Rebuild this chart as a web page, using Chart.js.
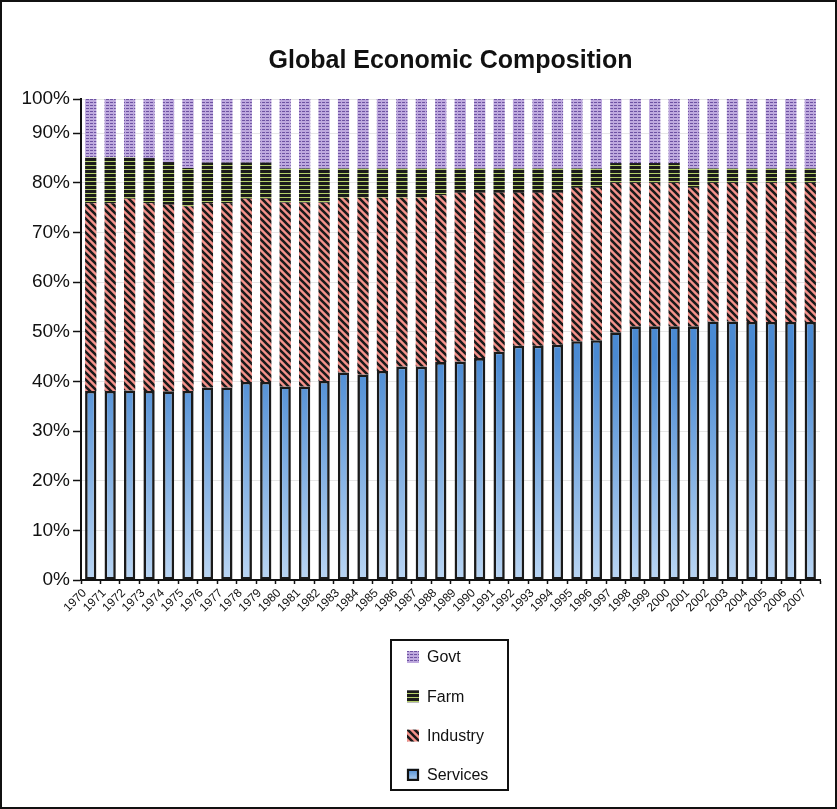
<!DOCTYPE html>
<html lang="en">
<head>
<meta charset="UTF-8">
<title>Global Economic Composition</title>
<style>
  body { margin: 0; background: #fff; }
  .frame { width: 837px; height: 809px; box-sizing: border-box; border: 2px solid #111; background: #fff; }
  .frame canvas { display: block; }
</style>
<script src="https://cdn.jsdelivr.net/npm/chart.js"></script>
</head>
<body>
<div class="frame"><canvas id="econChart" width="833" height="805"></canvas></div>
<script>
// shares of world output, percent
const years = [1970, 1971, 1972, 1973, 1974, 1975, 1976, 1977, 1978, 1979,
               1980, 1981, 1982, 1983, 1984, 1985, 1986, 1987, 1988, 1989,
               1990, 1991, 1992, 1993, 1994, 1995, 1996, 1997, 1998, 1999,
               2000, 2001, 2002, 2003, 2004, 2005, 2006, 2007];
const services = [38.1, 38.1, 38.2, 38.1, 38.0, 38.1, 38.8, 38.8, 39.9, 39.9,
                  39.0, 39.0, 40.1, 41.8, 41.4, 42.1, 43.0, 43.0, 43.9, 44.0,
                  44.7, 46.0, 47.2, 47.2, 47.4, 48.1, 48.3, 49.9, 51.1, 51.1,
                  51.1, 51.1, 52.1, 52.1, 52.0, 52.0, 52.0, 52.0];
const industry = [37.8, 37.8, 38.6, 37.8, 37.6, 37.2, 37.1, 37.1, 36.9, 36.9,
                  37.0, 37.0, 35.9, 35.2, 35.6, 34.9, 34.0, 34.0, 33.6, 34.0,
                  33.3, 32.0, 30.8, 30.8, 30.6, 30.9, 30.7, 30.1, 28.9, 28.9,
                  28.9, 27.9, 27.9, 27.9, 28.0, 28.0, 28.0, 28.0];
const farm = [9.2, 9.2, 8.3, 9.1, 8.6, 7.7, 8.2, 8.2, 7.3, 7.3,
              6.9, 6.9, 6.9, 5.9, 5.9, 5.9, 5.9, 5.9, 5.4, 4.9,
              4.9, 4.9, 4.9, 4.9, 4.9, 3.9, 3.9, 4.0, 4.0, 4.0,
              4.0, 3.9, 2.9, 2.9, 2.9, 2.9, 2.9, 2.9];
const govt = [14.9, 14.9, 14.9, 15.0, 15.8, 17.0, 15.9, 15.9, 15.9, 15.9,
              17.1, 17.1, 17.1, 17.1, 17.1, 17.1, 17.1, 17.1, 17.1, 17.1,
              17.1, 17.1, 17.1, 17.1, 17.1, 17.1, 17.1, 16.0, 16.0, 16.0,
              16.0, 17.1, 17.1, 17.1, 17.1, 17.1, 17.1, 17.1];

// value axis: ten-point ticks, last band is squeezed and labelled 100%
const yTicks = [0, 10, 20, 30, 40, 50, 60, 70, 80, 90];
const yTop = 96.9;

const FONT = '"Liberation Sans", Arial, sans-serif';

function makePattern(w, h, paint) {
  const c = document.createElement('canvas');
  c.width = w; c.height = h;
  const g = c.getContext('2d');
  paint(g, w, h);
  return g.createPattern(c, 'repeat');
}

const govtFill = makePattern(4, 3, g => {
  g.fillStyle = '#bea9de'; g.fillRect(0, 0, 4, 3);
  g.fillStyle = '#6e53a3'; g.fillRect(0, 1, 3, 1);
});
const farmFill = makePattern(1, 4, g => {
  g.fillStyle = '#1b1b1b'; g.fillRect(0, 0, 1, 4);
  g.fillStyle = '#b4cf6a'; g.fillRect(0, 3, 1, 1);
});
const industryFill = makePattern(7, 7, g => {
  g.fillStyle = '#f4928b'; g.fillRect(0, 0, 7, 7);
  g.strokeStyle = '#1a1a1a'; g.lineWidth = 2.6;
  g.beginPath();
  for (const o of [-7, 0, 7]) { g.moveTo(o - 1, -1); g.lineTo(o + 8, 8); }
  g.stroke();
});

function servicesFill(ctx) {
  const chart = ctx.chart;
  const area = chart.chartArea;
  if (!area) return '#5b95d8';
  const y = chart.scales.y;
  const grad = chart.ctx.createLinearGradient(0, area.bottom, 0, y.getPixelForValue(45));
  grad.addColorStop(0, '#b9d5f3');
  grad.addColorStop(1, '#4a8ad3');
  return grad;
}

// boxed legend under the axis, top series first
const boxLegend = {
  id: 'boxLegend',
  afterDraw(chart) {
    const ctx = chart.ctx;
    const area = chart.chartArea;
    const w = 117, h = 150;
    const left = Math.round((area.left + area.right) / 2 - w / 2 - 1);
    const top = Math.round(area.bottom + 60);
    ctx.save();
    ctx.lineWidth = 2;
    ctx.strokeStyle = '#111';
    ctx.strokeRect(left, top, w, h);
    ctx.font = '16px ' + FONT;
    ctx.textBaseline = 'middle';
    const sets = chart.data.datasets.slice().reverse();
    sets.forEach((ds, i) => {
      const cy = top + 17 + i * 39.3;
      const sx = left + 16, sy = cy - 6;
      let fill = ds.backgroundColor;
      if (typeof fill === 'function') {
        fill = ctx.createLinearGradient(0, sy + 12, 0, sy);
        fill.addColorStop(0, '#b9d5f3');
        fill.addColorStop(1, '#4a8ad3');
      }
      ctx.fillStyle = fill;
      ctx.fillRect(sx, sy, 12, 12);
      if (ds.borderWidth) {
        ctx.lineWidth = 2.2;
        ctx.strokeStyle = '#111';
        ctx.strokeRect(sx + 1, sy + 1, 10, 10);
      }
      ctx.fillStyle = '#111';
      ctx.fillText(ds.label, sx + 20, cy + 1);
    });
    ctx.restore();
  }
};

const stackBar = { stack: 'all', categoryPercentage: 1, barPercentage: 0.58, borderWidth: 0 };

new Chart(document.getElementById('econChart'), {
  type: 'bar',
  data: {
    labels: years,
    datasets: [
      { ...stackBar, label: 'Services', data: services, backgroundColor: servicesFill,
        borderColor: '#1a1a1a', borderWidth: 2.6, borderSkipped: false },
      { ...stackBar, label: 'Industry', data: industry, backgroundColor: industryFill },
      { ...stackBar, label: 'Farm', data: farm, backgroundColor: farmFill },
      { ...stackBar, label: 'Govt', data: govt, backgroundColor: govtFill }
    ]
  },
  options: {
    responsive: false,
    animation: false,
    layout: { padding: { left: 0, right: 15, top: 0, bottom: 0 } },
    plugins: {
      legend: { display: false },
      tooltip: { enabled: false },
      title: {
        display: true,
        fullSize: false,
        text: 'Global Economic Composition',
        color: '#111',
        font: { family: FONT, size: 25, weight: 'bold' },
        padding: { top: 44, bottom: 23 }
      }
    },
    scales: {
      x: {
        stacked: true,
        grid: { drawOnChartArea: false, tickLength: 4, tickColor: '#111', tickWidth: 1.5 },
        border: { color: '#111', width: 2 },
        ticks: {
          color: '#111', minRotation: 45, maxRotation: 45, autoSkip: false, padding: 2,
          labelOffset: -6,
          font: { family: FONT, size: 12 }
        },
        afterFit(scale) { scale.height = 227; }
      },
      y: {
        stacked: true,
        min: 0,
        max: yTop,
        grid: { color: '#e6e6e6', tickColor: '#111', tickLength: 8, tickWidth: 1.5 },
        border: { color: '#111', width: 2 },
        ticks: {
          color: '#111', padding: 3,
          font: { family: FONT, size: 19 },
          callback: v => (v >= yTop ? 100 : v) + '%'
        },
        afterBuildTicks(scale) {
          scale.ticks = yTicks.concat([yTop]).map(v => ({ value: v }));
        },
        afterFit(scale) { scale.width = 79; }
      }
    }
  },
  plugins: [boxLegend]
});
</script>
</body>
</html>
